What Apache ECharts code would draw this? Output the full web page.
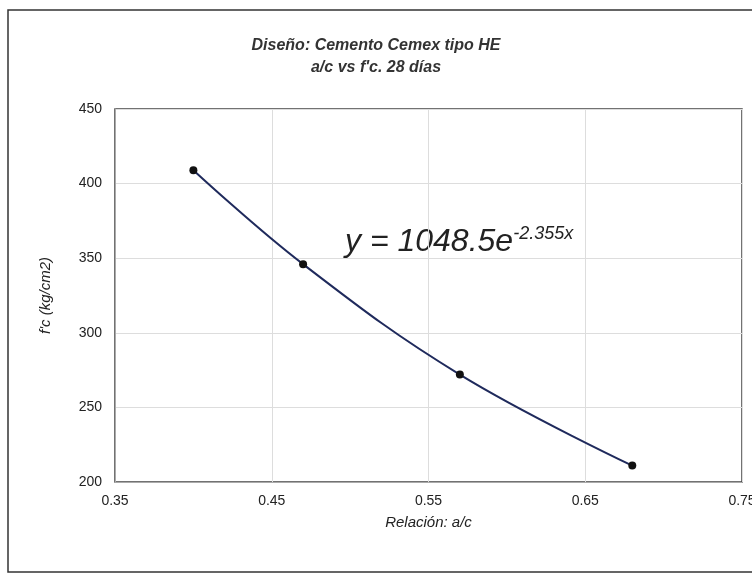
<!DOCTYPE html>
<html>
<head>
<meta charset="utf-8">
<script src="https://cdn.jsdelivr.net/npm/echarts@6/dist/echarts.min.js"></script>
<style>
    html, body {margin: 0; padding: 0; background: #fff;}
    #chart {width: 752px; height: 579px;}
</style>
</head>
<body>
<div id="chart"></div>
<script>
    // relación a/c y resistencia f'c a 28 días
    var ratios = [0.40, 0.47, 0.57, 0.68];
    var strengths = [409, 346, 272, 211];
    var xTicks = [0.35, 0.45, 0.55, 0.65, 0.75];
    var yTicks = [200, 250, 300, 350, 400, 450];
    var equation = ['y = 1048.5e', '-2.355x'];

    var font = '"Liberation Sans Narrow", "Liberation Sans", Arial, sans-serif';
    var chart = echarts.init(document.getElementById('chart'));

    var points = ratios.map(function (r, i) {
        return [r, strengths[i]];
    });

    var option = {
        animation: false,
        title: {
            text: 'Diseño: Cemento Cemex tipo HE\na/c vs f\'c. 28 días',
            left: 'center',
            top: 30,
            textStyle: {
                fontFamily: font,
                fontSize: 16,
                fontStyle: 'italic',
                fontWeight: 'bold',
                color: '#333',
                lineHeight: 22
            }
        },
        grid: {
            left: 115,
            right: 10,
            top: 109,
            bottom: 97,
            outerBoundsMode: 'none',
            show: true,
            borderColor: '#444',
            borderWidth: 1.5
        },
        xAxis: {
            type: 'value',
            min: xTicks[0],
            max: xTicks[xTicks.length - 1],
            interval: 0.1,
            name: 'Relación: a/c',
            nameLocation: 'middle',
            nameGap: 33,
            nameTextStyle: {
                fontFamily: font, fontSize: 15, fontStyle: 'italic', color: '#222'
            },
            axisLine: {lineStyle: {color: '#aaa'}},
            axisTick: {show: false},
            axisLabel: {
                fontFamily: font, fontSize: 14, color: '#222', margin: 12,
                formatter: function (v) { return v.toFixed(2); }
            },
            splitLine: {lineStyle: {color: '#ddd'}}
        },
        yAxis: {
            type: 'value',
            min: yTicks[0],
            max: yTicks[yTicks.length - 1],
            interval: 50,
            name: 'f\'c (kg/cm2)',
            nameLocation: 'middle',
            nameGap: 62,
            nameTextStyle: {
                fontFamily: font, fontSize: 15, fontStyle: 'italic', color: '#222'
            },
            axisLine: {show: true, lineStyle: {color: '#aaa'}},
            axisTick: {show: false},
            axisLabel: {fontFamily: font, fontSize: 14, color: '#222', margin: 13},
            splitLine: {lineStyle: {color: '#ddd'}}
        },
        series: [{
            type: 'line',
            data: points,
            smooth: 0.4,
            symbol: 'circle',
            symbolSize: 8,
            itemStyle: {color: '#111'},
            lineStyle: {color: '#1f2a5c', width: 2}
        }],
        graphic: [{
            type: 'rect',
            shape: {x: 8, y: 10, width: 770, height: 562},
            style: {fill: 'none', stroke: '#333', lineWidth: 1.5},
            silent: true
        }, {
            type: 'text',
            x: 345,
            y: 225,
            style: {
                text: '{b|' + equation[0] + '}{s|' + equation[1] + '}',
                rich: {
                    b: {fontFamily: font, fontSize: 32, fontStyle: 'italic', fill: '#222'},
                    s: {fontFamily: font, fontSize: 18, fontStyle: 'italic', fill: '#222', verticalAlign: 'top', padding: [0, 0, 16, 0]}
                }
            }
        }]
    };

    chart.setOption(option);
</script>
</body>
</html>
